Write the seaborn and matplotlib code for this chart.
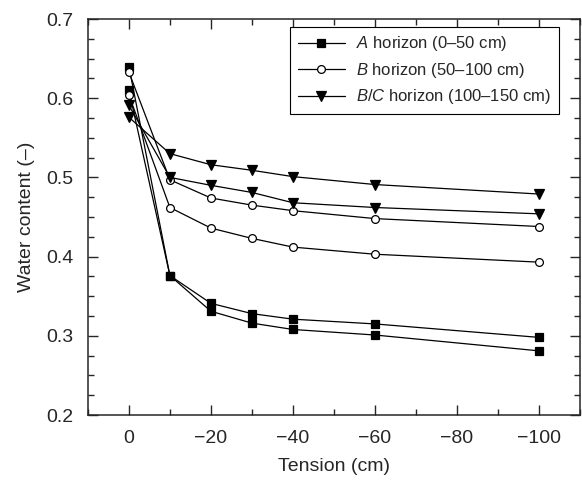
import numpy as np
import pandas as pd
import seaborn as sns
import matplotlib.pyplot as plt
from matplotlib.lines import Line2D
from matplotlib.ticker import MultipleLocator

# tension (cm) and water content
tension = [0, -10, -20, -30, -40, -60, -100]
a_upper = [0.640, 0.376, 0.341, 0.328, 0.321, 0.315, 0.298]
a_lower = [0.610, 0.376, 0.331, 0.316, 0.308, 0.301, 0.281]
b_upper = [0.633, 0.497, 0.474, 0.465, 0.458, 0.448, 0.438]
b_lower = [0.604, 0.462, 0.436, 0.423, 0.412, 0.403, 0.393]
bc_upper = [0.576, 0.530, 0.516, 0.509, 0.501, 0.491, 0.479]
bc_lower = [0.591, 0.500, 0.490, 0.481, 0.468, 0.462, 0.454]

horizons = ["A", "B", "B/C"]
labels = [r"$\mathit{A}$ horizon (0–50 cm)",
          r"$\mathit{B}$ horizon (50–100 cm)",
          r"$\mathit{B/C}$ horizon (100–150 cm)"]

sns.set_style("ticks")
plt.rcParams["font.family"] = ["Liberation Sans", "DejaVu Sans"]
plt.rcParams["mathtext.fontset"] = "custom"
plt.rcParams["mathtext.rm"] = "Liberation Sans"
plt.rcParams["mathtext.it"] = "Liberation Sans:italic"

series = {
    "A": [a_upper, a_lower],
    "B": [b_upper, b_lower],
    "B/C": [bc_upper, bc_lower],
}
# marker styles per horizon: (marker, facecolor, size)
styles = {
    "A": ("s", "black", 5.3),
    "B": ("o", "white", 5.6),
    "B/C": ("v", "black", 7.2),
}

rows = []
for h in horizons:
    for rep, vals in enumerate(series[h]):
        for t, w in zip(tension, vals):
            rows.append({"tension": t, "water": w, "horizon": h, "rep": rep})
df = pd.DataFrame(rows)

fig = plt.figure(figsize=(5.82, 4.80), dpi=100)
ax = fig.add_axes([0.151, 0.1354, 0.8456, 0.825])

for h in horizons:
    m, fc, ms = styles[h]
    for rep in range(2):
        sub = df[(df.horizon == h) & (df.rep == rep)]
        sns.lineplot(data=sub, x="tension", y="water", ax=ax, color="black",
                     lw=0.9, marker=m, markersize=ms, markerfacecolor=fc,
                     markeredgecolor="black", markeredgewidth=0.9)

ax.set_xlim(10, -110)
ax.set_ylim(0.2, 0.7)
ax.set_xticks([0, -20, -40, -60, -80, -100])
ax.xaxis.set_minor_locator(MultipleLocator(10))
ax.set_yticks([0.2, 0.3, 0.4, 0.5, 0.6, 0.7])
ax.yaxis.set_minor_locator(MultipleLocator(0.025))
ax.tick_params(which="both", direction="in", top=True, right=True,
               labelsize=14, width=1.0, pad=10.5)
ax.tick_params(which="major", length=7)
ax.tick_params(which="minor", length=4)
for s in ax.spines.values():
    s.set_linewidth(1.1)

ax.set_xlabel("Tension (cm)", fontsize=14, labelpad=8)
ax.set_ylabel("Water content (–)", fontsize=14, labelpad=8)

handles = []
for h, lab in zip(horizons, labels):
    m, fc, ms = styles[h]
    handles.append(Line2D([], [], color="black", lw=0.9, marker=m, markersize=ms,
                          markerfacecolor=fc, markeredgecolor="black",
                          markeredgewidth=0.9, label=lab))
leg = ax.legend(handles=handles, loc="upper right", bbox_to_anchor=(0.957, 0.980),
                borderaxespad=0, fontsize=12, handlelength=2.8, handletextpad=0.7,
                fancybox=False, framealpha=1, edgecolor="black", labelspacing=0.45,
                borderpad=0.45)
leg.get_frame().set_linewidth(0.8)

fig.savefig("out.png", dpi=100)
